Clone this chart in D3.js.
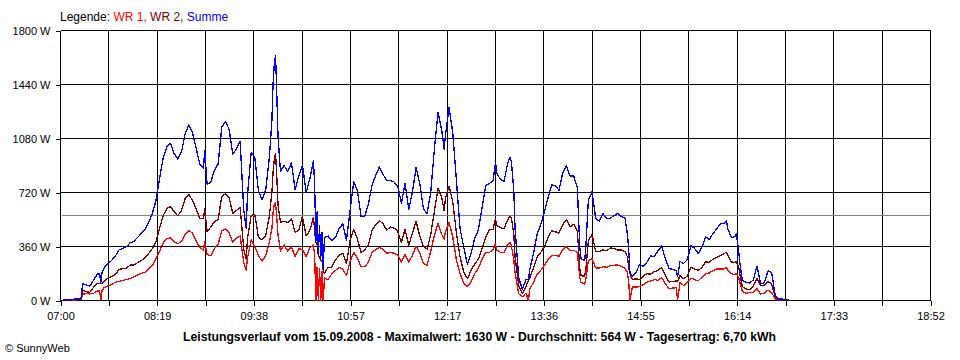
<!DOCTYPE html>
<html><head><meta charset="utf-8">
<script src="https://cdn.jsdelivr.net/npm/d3@7"></script>
<style>
body{margin:0;background:#fff;}
svg{display:block;font-family:"Liberation Sans",Arial,sans-serif;}
</style></head><body>
<svg id="chart" width="960" height="360"></svg>
<script>
// ---- data ----
const times = [
 "07:00","07:03","07:06","07:09","07:12","07:15","07:17","07:18","07:21","07:24","07:27","07:30","07:32","07:33","07:34","07:36","07:39","07:42","07:45","07:48","07:51","07:54","07:57",
 "08:00","08:03","08:06","08:09","08:12","08:15","08:18","08:21","08:24","08:27","08:30","08:33","08:36","08:39","08:42","08:45","08:48","08:51","08:54","08:57","08:58",
 "09:00","09:03","09:06","09:09","09:12","09:15","09:18","09:21","09:24","09:27","09:30","09:32","09:33","09:36","09:39","09:42","09:45","09:48","09:51","09:53","09:54","09:55","09:56","09:57","09:58",
 "10:00","10:03","10:06","10:09","10:12","10:15","10:18","10:21","10:24","10:27","10:28","10:29","10:30","10:31","10:32","10:33","10:34","10:35","10:36","10:39","10:42","10:45","10:48","10:51","10:54","10:57",
 "11:00","11:03","11:06","11:09","11:12","11:15","11:18","11:21","11:24","11:27","11:30","11:33","11:36","11:39","11:42","11:45","11:48","11:51","11:54","11:57",
 "12:00","12:03","12:06","12:09","12:12","12:14","12:15","12:18","12:21","12:24","12:27","12:30","12:33","12:36","12:39","12:42","12:45","12:48","12:51","12:54","12:56","12:57",
 "13:00","13:03","13:06","13:08","13:09","13:11","13:12","13:15","13:18","13:21","13:23","13:24","13:27","13:30","13:33","13:36","13:39","13:42","13:45","13:48","13:51","13:54","13:57",
 "14:00","14:03","14:05","14:06","14:09","14:10","14:12","14:15","14:18","14:21","14:24","14:27","14:30","14:33","14:36","14:39","14:42","14:44","14:45","14:46","14:48","14:51","14:54","14:57",
 "15:00","15:03","15:06","15:09","15:12","15:15","15:18","15:21","15:24","15:25","15:27","15:30","15:33","15:36","15:39","15:42","15:45","15:48","15:51","15:54","15:57",
 "16:00","16:03","16:05","16:06","16:09","16:12","16:13","16:15","16:16","16:18","16:21","16:24","16:27","16:30","16:33","16:36","16:39","16:42","16:45","16:48","16:51","16:54","16:56"
];
const summe = [
 0,3,5,7,10,15,17,112,105,97,135,175,180,120,185,220,248,268,298,338,348,358,385,
 394,420,445,470,520,575,663,810,950,1025,1047,980,943,990,1110,1173,1120,1015,910,880,1000,
 775,790,870,910,1155,1195,1140,975,1010,1060,600,480,700,985,955,730,670,740,960,1200,1450,1580,1630,1380,1100,
 860,900,860,920,740,830,905,720,810,930,770,400,590,310,500,280,455,210,420,430,400,420,480,510,400,600,
 793,730,560,560,645,770,835,890,840,800,800,790,760,650,780,610,720,888,780,610,
 580,720,1010,1255,1135,1010,1100,1287,1120,800,480,356,240,315,415,470,620,765,780,800,922,850,
 807,795,918,956,925,730,480,150,75,140,140,205,310,440,505,590,685,770,765,735,850,900,830,
 830,750,350,280,265,367,667,725,547,530,580,545,550,565,580,560,550,440,340,190,160,189,240,225,
 257,297,293,333,363,277,213,207,197,160,260,247,273,367,347,311,357,423,407,447,477,
 511,513,533,480,418,427,444,333,247,133,122,117,137,230,110,120,197,187,30,10,9,8,6
];
const wr2 = [
 0,2,3,4,6,9,10,70,58,55,87,112,113,113,115,130,150,160,176,208,212,216,236,
 237,252,265,285,312,345,388,480,565,612,627,590,565,600,680,707,668,610,548,545,610,
 458,490,525,540,695,712,685,580,600,620,340,275,410,565,575,420,405,435,567,720,860,940,980,830,640,
 520,528,520,545,455,470,560,430,465,555,465,390,370,300,285,270,265,200,180,222,222,270,300,315,245,400,
 473,410,320,338,373,470,505,533,511,470,489,483,460,389,475,367,450,527,430,360,
 343,440,595,747,685,600,680,763,660,450,290,190,145,200,245,275,350,422,470,475,545,500,
 487,478,540,560,550,440,290,100,47,95,133,150,215,290,320,358,420,465,458,450,505,540,490,
 508,460,213,167,160,213,400,440,327,325,337,331,350,347,337,337,325,290,220,180,140,145,140,165,
 178,177,193,200,220,167,123,127,130,125,167,145,163,222,210,200,222,257,255,275,287,
 300,313,322,303,257,253,260,222,173,93,77,72,97,145,98,103,127,110,20,2,0,0,0
];
const wr1 = [
 0,1,2,3,4,6,7,42,45,44,48,63,65,0,68,88,98,108,122,128,134,140,147,
 157,170,180,188,210,232,275,325,385,410,420,390,378,395,440,467,450,398,355,335,390,
 305,300,345,375,465,478,450,390,415,430,250,200,280,405,360,300,262,300,390,480,590,640,650,550,440,
 330,370,330,360,290,345,340,290,350,370,300,0,220,0,210,0,195,0,150,140,178,200,220,210,167,260,
 320,285,225,225,255,320,340,353,340,315,320,315,303,255,310,255,300,362,320,247,
 233,330,435,515,440,410,460,520,425,270,180,115,92,125,180,215,275,320,320,340,378,335,
 322,320,375,385,365,270,185,45,25,50,0,78,118,175,200,235,272,300,300,295,340,360,335,
 335,320,150,120,110,147,267,278,218,215,225,222,232,235,237,227,215,185,125,0,90,89,93,105,
 122,130,140,133,153,111,80,83,85,0,120,100,122,150,138,133,155,180,183,200,210,
 211,211,222,203,178,173,180,155,120,63,47,55,55,78,43,50,70,53,10,0,0,0,0
];
const yTickValues = [0, 360, 720, 1080, 1440, 1800];
const yTickLabels = ["0 W", "360 W", "720 W", "1080 W", "1440 W", "1800 W"];
const xTickLabels = ["07:00","08:19","09:38","10:57","12:17","13:36","14:55","16:14","17:33","18:52"];
const averageW = 564;
const legendParts = [["Legende: ", "#000000"], ["WR 1, ", "#ff0000"], ["WR 2, ", "#800000"], ["Summe", "#0000ff"]];
const seriesNames = ["WR 1", "WR 2", "Summe"];
const seriesColors = ["#ff0000", "#800000", "#0000ff"];
const titleText = "Leistungsverlauf vom 15.09.2008 - Maximalwert: 1630 W - Durchschnitt: 564 W - Tagesertrag: 6,70 kWh";
const copyright = "\u00A9 SunnyWeb";

// ---- chart ----
const svg = d3.select("#chart");
const parse = d3.timeParse("%H:%M");
const x = d3.scaleTime().domain([parse("07:00"), parse("18:52")]).range([60.5, 930.5]);
const y = d3.scaleLinear().domain([0, 1800]).range([300.5, 30.5]);
const [t0, t1] = x.domain();
const gridTimes = d3.range(19).map(i => new Date(+t0 + i * (t1 - t0) / 18));

// gridlines
const grid = svg.append("g").attr("shape-rendering", "crispEdges");
grid.selectAll("line.h").data(yTickValues).join("line")
  .attr("x1", x.range()[0]).attr("x2", x.range()[1])
  .attr("y1", d => y(d)).attr("y2", d => y(d))
  .attr("stroke", "#000").attr("stroke-width", 1);
grid.selectAll("line.v").data(gridTimes).join("line")
  .attr("x1", d => x(d)).attr("x2", d => x(d))
  .attr("y1", y.range()[1]).attr("y2", y.range()[0])
  .attr("stroke", "#000").attr("stroke-width", 1);

// average line
grid.append("line")
  .attr("x1", x.range()[0] + 1).attr("x2", x.range()[1] - 1)
  .attr("y1", Math.round(y(averageW) - 0.5) + 0.5).attr("y2", Math.round(y(averageW) - 0.5) + 0.5)
  .attr("stroke", "#808080").attr("stroke-width", 1);

// axes
const yAxis = d3.axisLeft(y).tickValues(yTickValues)
  .tickFormat((d, i) => yTickLabels[i]).tickSize(5).tickPadding(5);
const gy = svg.append("g").attr("transform", "translate(60.5,0)").call(yAxis);
const xAxis = d3.axisBottom(x).tickValues(gridTimes)
  .tickFormat((d, i) => i % 2 === 0 ? xTickLabels[i / 2] : "").tickSize(5).tickPadding(7);
const gx = svg.append("g").attr("transform", "translate(0,300.5)").call(xAxis);
[gx, gy].forEach(g => {
  g.select(".domain").remove();
  g.selectAll("line").attr("stroke", "#000").attr("shape-rendering", "crispEdges");
  g.selectAll("text").attr("fill", "#000").style("font-size", "11px")
    .style("font-family", "'Liberation Sans', Arial, sans-serif");
});

// series
const valuesBySeries = [wr1, wr2, summe];
const line = d3.line().x(d => x(d.t)).y(d => y(d.v));
valuesBySeries.forEach((vals, k) => {
  const pts = times.map((t, i) => ({t: parse(t), v: vals[i]}));
  svg.append("path").datum(pts)
    .attr("class", "series")
    .attr("data-name", seriesNames[k])
    .attr("fill", "none")
    .attr("stroke", seriesColors[k])
    .attr("stroke-width", 1.3)
    .attr("shape-rendering", "crispEdges")
    .attr("stroke-linejoin", "round")
    .attr("d", line);
});

// legend
const leg = svg.append("text").attr("x", 60).attr("y", 21).style("font-size", "12px");
legendParts.forEach(([txt, col]) => leg.append("tspan").attr("fill", col).attr("xml:space", "preserve").text(txt));

// title
svg.append("text").attr("x", 479.5).attr("y", 341).attr("text-anchor", "middle")
  .style("font-size", "12px").style("font-weight", "bold")
  .attr("textLength", 593).attr("lengthAdjust", "spacingAndGlyphs")
  .text(titleText);

// copyright
svg.append("text").attr("x", 5).attr("y", 352).style("font-size", "11px").text(copyright);
</script>
</body></html>
